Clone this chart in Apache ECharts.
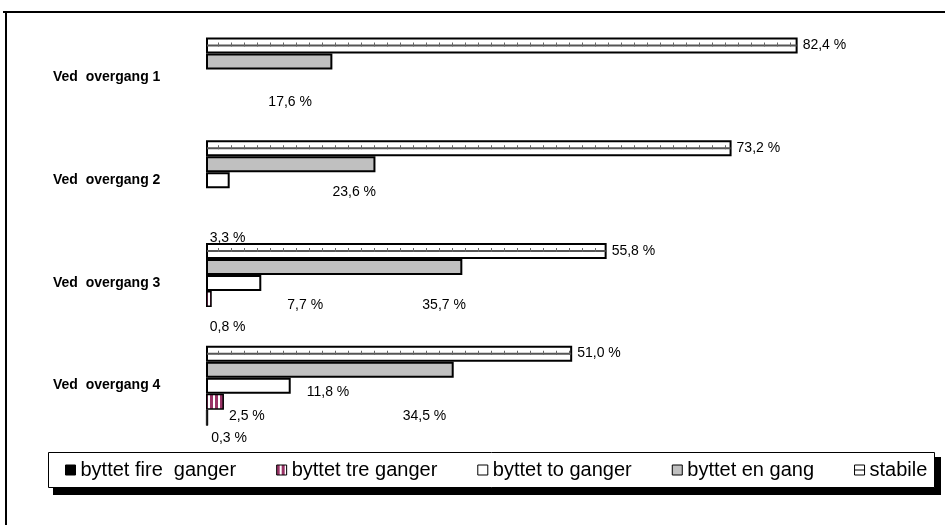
<!DOCTYPE html>
<html>
<head>
<meta charset="utf-8">
<script src="https://cdn.jsdelivr.net/npm/echarts@6/dist/echarts.min.js"></script>
<style>
  html, body { margin: 0; padding: 0; background: #fff; }
  #chart { width: 945px; height: 525px; }
</style>
</head>
<body>
<div id="chart"></div>
<script>
// categories and values (percent)
const categories = ['Ved  overgang 1', 'Ved  overgang 2', 'Ved  overgang 3', 'Ved  overgang 4'];
const stabile = [82.4, 73.2, 55.8, 51.0];
const byttetEnGang = [17.6, 23.6, 35.7, 34.5];
const byttetTo = [null, 3.3, 7.7, 11.8];
const byttetTre = [null, null, 0.8, 2.5];
const byttetFire = [null, null, null, 0.3];

const seriesNames = ['stabile', 'byttet en gang', 'byttet to ganger', 'byttet tre ganger', 'byttet fire ganger'];
const legendOrder = ['byttet fire ganger', 'byttet tre ganger', 'byttet to ganger', 'byttet en gang', 'stabile'];
const legendText = {
  'byttet fire ganger': 'byttet fire  ganger',
  'byttet tre ganger': 'byttet tre ganger',
  'byttet to ganger': 'byttet to ganger',
  'byttet en gang': 'byttet en gang',
  'stabile': 'stabile'
};

// where the Excel labels ended up, relative to the bar end (style only)
const enGangShift = [[-69, 41], [-48, 28], [-45, 38], [-56, 47]];
const toShift = [null, [-25, 58], [21, 22], [11, 7]];
const treShift = [null, null, [-7, 28], [0, 15]];
const fireShift = [null, null, null, [-2, 21]];

const FONT = 'Liberation Sans, Arial, sans-serif';
const fmt = p => p.value.toFixed(1).replace('.', ',') + ' %';

// plum/white vertical stripes
const stripe = document.createElement('canvas');
stripe.width = 5; stripe.height = 4;
const sctx = stripe.getContext('2d');
sctx.fillStyle = '#fff'; sctx.fillRect(0, 0, 5, 4);
sctx.fillStyle = '#993366'; sctx.fillRect(0, 0, 3, 4);

const withShift = (vals, shifts) => vals.map((v, i) =>
  v == null ? '-' : { value: v, label: { offset: shifts[i] } });

const baseBar = (name, data, color, bw) => ({
  name,
  type: 'bar',
  data,
  barWidth: 16,
  barGap: '0%',
  itemStyle: { color, borderColor: '#000', borderWidth: bw || 2 },
  label: {
    show: true, position: 'right', distance: 5, formatter: fmt,
    color: '#000', fontSize: 14, fontFamily: FONT
  }
});

const chart = echarts.init(document.getElementById('chart'));

chart.setOption({
  animation: false,
  backgroundColor: '#fff',
  graphic: [
    { type: 'line', shape: { x1: 3, y1: 12, x2: 945, y2: 12 }, style: { stroke: '#000', lineWidth: 2 } },
    { type: 'line', shape: { x1: 6, y1: 12, x2: 6, y2: 525 }, style: { stroke: '#000', lineWidth: 2 } },
    // legend frame with its drop shadow
    { type: 'rect', shape: { x: 53, y: 457, width: 888, height: 38 }, style: { fill: '#000' } },
    { type: 'rect', shape: { x: 48.5, y: 452.5, width: 886, height: 35 }, style: { fill: '#fff', stroke: '#000', lineWidth: 1 } }
  ],
  grid: { left: 206, right: 21, top: 26, bottom: 88 },
  legend: {
    data: legendOrder.map(n => n === 'stabile'
      ? { name: n, icon: 'path://M0,0H10V10H0ZM0,5H10' }
      : { name: n, icon: 'rect' }),
    formatter: n => legendText[n],
    left: 48, top: 452,
    itemWidth: 10, itemHeight: 10, itemGap: 40,
    padding: [8, 8, 8, 17],
    itemStyle: { borderWidth: 1, borderColor: '#000' },
    textStyle: { color: '#000', fontSize: 20, fontFamily: FONT }
  },
  xAxis: { type: 'value', min: 0, max: 100, show: false },
  yAxis: {
    type: 'category',
    data: categories,
    inverse: true,
    axisLine: { show: false },
    axisTick: { show: false },
    axisLabel: {
      align: 'left', margin: 153,
      color: '#000', fontWeight: 'bold', fontSize: 14, fontFamily: FONT
    }
  },
  series: [
    baseBar(seriesNames[0], stabile, '#fff'),
    baseBar(seriesNames[1], withShift(byttetEnGang, enGangShift), '#c0c0c0'),
    baseBar(seriesNames[2], withShift(byttetTo, toShift), '#fff'),
    baseBar(seriesNames[3], withShift(byttetTre, treShift), { image: stripe, repeat: 'repeat' }, 1.5),
    baseBar(seriesNames[4], withShift(byttetFire, fireShift), '#000', 0.5),
    {
      // the horizontal line pattern inside the "stabile" bars
      type: 'custom',
      silent: true,
      z: 5,
      data: stabile.map((v, i) => [v, i]),
      encode: { x: 0, y: 1 },
      renderItem: (params, api) => {
        const s = api.coord([0, api.value(1)]);
        const e = api.coord([api.value(0), api.value(1)]);
        const y = e[1] - 32;
        return {
          type: 'group',
          children: [
            { type: 'line', shape: { x1: s[0] + 1, y1: y, x2: e[0] - 1, y2: y }, style: { stroke: '#555', lineWidth: 2 } },
            { type: 'line', shape: { x1: s[0] + 12, y1: y - 1, x2: e[0] - 2, y2: y - 1 }, style: { stroke: '#666', lineWidth: 4, lineDash: [1, 12] } }
          ]
        };
      }
    }
  ]
});
</script>
</body>
</html>
